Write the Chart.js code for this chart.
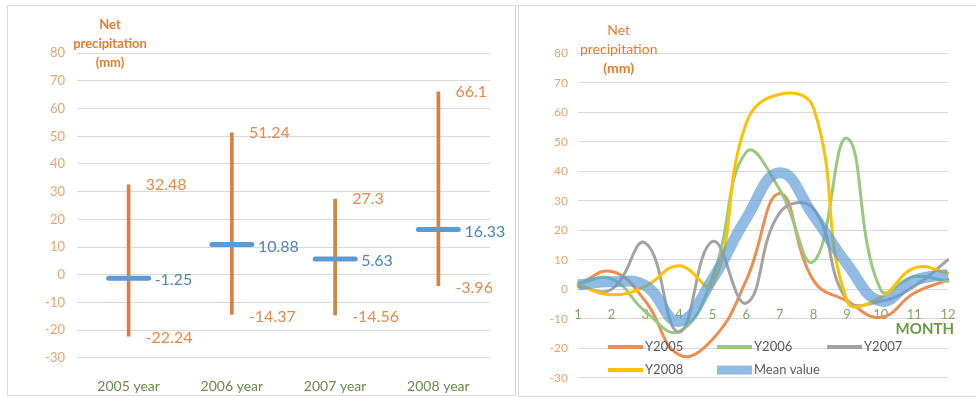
<!DOCTYPE html>
<html>
<head>
<meta charset="utf-8">
<script src="https://cdn.jsdelivr.net/npm/chart.js@4.4.1/dist/chart.umd.min.js"></script>
<style>
  body { margin: 0; background: #fff; width: 976px; height: 397px; overflow: hidden; }
  .panel { position: absolute; border: 1px solid #D9D9D9; background: #fff; }
  #p1 { left: 7px; top: 5px; width: 507px; height: 389px; }
  #p2 { left: 518px; top: 5px; width: 470px; height: 390px; }
</style>
</head>
<body>
<div class="panel" id="p1"><canvas id="leftChart" width="507" height="389"></canvas></div>
<div class="panel" id="p2"><canvas id="rightChart" width="457" height="390"></canvas></div>
<script>
/* data, left: yearly range + mean */
const years = ['2005 year', '2006 year', '2007 year', '2008 year'];
const yearMax = [32.48, 51.24, 27.3, 66.1];
const yearMin = [-22.24, -14.37, -14.56, -3.96];
const yearMean = [-1.25, 10.88, 5.63, 16.33];

/* data, right: monthly net precipitation */
const months = ['1', '2', '3', '4', '5', '6', '7', '8', '9', '10', '11', '12'];
const y2005 = [1.5, 6, -4, -22.24, -17, 3, 32.48, 3, -4, -9.5, -1.3, 3.2];
const y2006 = [2, 3.5, -7.5, -14.37, 4, 46.5, 33.7, 9.4, 51.24, -0.2, 4.3, 2.6];
const y2007 = [1, 0, 15.7, -14.56, 16.2, -4.7, 26, 27.3, -3.6, -4.1, 1, 10];
const y2008 = [1.5, -1.9, 1, 8, 1.5, 56.3, 66.1, 61.5, -3.96, -2.8, 7.2, 5.5];
const meanValue = [1.5, 2.5, 1.3, -10.9, 3.5, 24, 39.5, 25, 8.5, -4, 3, 5];

const yTicks = [-30, -20, -10, 0, 10, 20, 30, 40, 50, 60, 70, 80];

const FONT = 'Lato, "Open Sans", sans-serif';

// axis title drawn above the plot
function axisTitle(dx, dys, bold, size) {
  return {
    id: 'axisTitle',
    afterDraw(chart) {
      const ctx = chart.ctx, a = chart.chartArea;
      const lines = ['Net', 'precipitation', '(mm)'];
      ctx.save();
      ctx.fillStyle = '#EB7A2E';
      ctx.textAlign = 'center';
      ctx.textBaseline = 'middle';
      lines.forEach((t, i) => {
        ctx.font = (bold || i == 2 ? 'bold ' : '') + size + 'px ' + FONT;
        ctx.fillText(t, a.left + dx, a.top + dys[i]);
      });
      ctx.restore();
    }
  };
}

/* ---------- left chart ---------- */
const rangeData = years.map((y, i) => [yearMin[i], yearMax[i]]);

const leftLabels = {
  id: 'leftLabels',
  beforeDatasetDraw(chart, args) {
    if (args.index == 1) chart.ctx.lineCap = 'round';
  },
  afterDatasetDraw(chart, args) {
    if (args.index == 1) chart.ctx.lineCap = 'butt';
  },
  afterDraw(chart) {
    const ctx = chart.ctx;
    const ys = chart.scales.y;
    const bars = chart.getDatasetMeta(0).data;
    ctx.save();
    ctx.font = '16px ' + FONT;
    ctx.textAlign = 'left';
    ctx.textBaseline = 'middle';
    bars.forEach((b, i) => {
      ctx.fillStyle = '#E8894A';
      ctx.fillText(String(yearMax[i]), b.x + 17, ys.getPixelForValue(yearMax[i]));
      ctx.fillText(String(yearMin[i]), b.x + 17, ys.getPixelForValue(yearMin[i]) + 2);
      ctx.fillStyle = '#4A84C4';
      ctx.fillText(String(yearMean[i]), b.x + 26, ys.getPixelForValue(yearMean[i]) + 2);
    });
    ctx.restore();
  }
};

new Chart(document.getElementById('leftChart'), {
  type: 'bar',
  data: {
    labels: years,
    datasets: [
      {
        label: 'range',
        data: rangeData,
        backgroundColor: '#D9803E',
        borderWidth: 0,
        barThickness: 3,
        order: 2
      },
      {
        type: 'line',
        label: 'mean',
        data: yearMean,
        showLine: false,
        pointStyle: 'line',
        pointRadius: 20,
        pointBorderWidth: 5,
        pointBorderColor: '#5B9BD5',
        borderColor: '#5B9BD5',
        order: 1
      }
    ]
  },
  options: {
    responsive: false,
    animation: false,
    layout: { padding: { top: 47.3, right: 22, bottom: 0, left: 0 } },
    plugins: { legend: { display: false }, tooltip: { enabled: false } },
    scales: {
      x: {
        grid: { display: false },
        border: { display: false },
        ticks: { color: '#6A8C4C', font: { family: FONT, size: 14 }, padding: 12 },
        afterFit(s) { s.height = 37.3; }
      },
      y: {
        min: -30, max: 80,
        afterBuildTicks(s) { s.ticks = yTicks.map(v => ({ value: v })); },
        grid: { color: '#D9D9D9', drawTicks: false },
        border: { display: false },
        ticks: { color: '#E9A46E', font: { family: FONT, size: 13 }, padding: 12 },
        afterFit(s) { s.width = 69; }
      }
    }
  },
  plugins: [leftLabels, axisTitle(33, [-28.3, -9.6, 9.4], true, 13)]
});

/* ---------- right chart ---------- */
const series = [
  { label: 'Y2005', data: y2005, color: '#EF8C50', width: 3 },
  { label: 'Y2006', data: y2006, color: '#98C97E', width: 3 },
  { label: 'Y2007', data: y2007, color: '#A3A3A3', width: 3 },
  { label: 'Y2008', data: y2008, color: '#FFC000', width: 3 },
  { label: 'Mean value', data: meanValue, color: 'rgba(91,155,213,0.68)', width: 11 }
];

const rightExtras = {
  id: 'rightExtras',
  afterDraw(chart) {
    const ctx = chart.ctx, a = chart.chartArea;
    const zero = chart.scales.y.getPixelForValue(0);
    ctx.save();
    // MONTH
    ctx.font = 'bold 15px ' + FONT;
    ctx.fillStyle = '#6A9A45';
    ctx.textAlign = 'right';
    ctx.textBaseline = 'middle';
    ctx.fillText('MONTH', a.right + 6, zero + 40);
    // legend
    const spots = [[30, -30.7], [139, -30.7], [249, -30.7], [30, -7.7], [139, -7.7]];
    ctx.font = '13px ' + FONT;
    ctx.textAlign = 'left';
    chart.data.datasets.forEach((ds, i) => {
      const x = a.left + spots[i][0], y = a.bottom + spots[i][1];
      ctx.strokeStyle = ds.borderColor;
      ctx.lineWidth = ds.borderWidth == 3 ? 4 : 9;
      ctx.beginPath();
      ctx.moveTo(x, y);
      ctx.lineTo(x + 35, y);
      ctx.stroke();
      ctx.fillStyle = '#595959';
      ctx.fillText(ds.label, x + 37, y);
    });
    ctx.restore();
  }
};

new Chart(document.getElementById('rightChart'), {
  type: 'line',
  data: {
    labels: months,
    datasets: series.map((s, i) => ({
      label: s.label,
      data: s.data,
      borderColor: s.color,
      backgroundColor: s.color,
      borderWidth: s.width,
      pointRadius: 0,
      tension: 0.45,
      borderCapStyle: i == 4 ? 'butt' : 'round',
      order: i == 4 ? 0 : 5 - i
    }))
  },
  options: {
    responsive: false,
    animation: false,
    layout: { padding: { top: 47.3, right: 28, bottom: 18.3, left: 0 } },
    plugins: { legend: { display: false }, tooltip: { enabled: false } },
    scales: {
      x: {
        position: { y: 0 },
        offset: false,
        grid: { display: false },
        border: { display: false },
        ticks: { color: '#7FA862', font: { family: FONT, size: 13 }, padding: 10, maxRotation: 0 },
        afterFit(s) { s.height = 0; }
      },
      y: {
        min: -30, max: 80,
        afterBuildTicks(s) { s.ticks = yTicks.map(v => ({ value: v })); },
        grid: { color: '#D9D9D9', drawTicks: false },
        border: { display: false },
        ticks: { color: '#E9A46E', font: { family: FONT, size: 12 }, padding: 10 },
        afterFit(s) { s.width = 59; }
      }
    }
  },
  plugins: [rightExtras, axisTitle(40.7, [-23.3, -4, 15], false, 14)]
});
</script>
</body>
</html>
